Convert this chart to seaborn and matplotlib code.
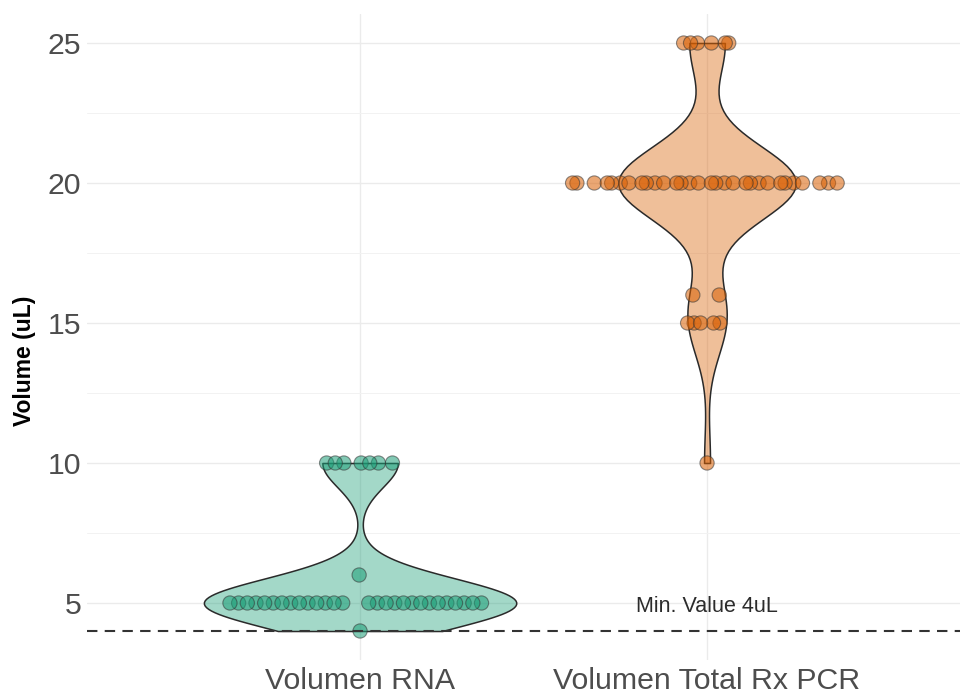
import numpy as np
import pandas as pd
import matplotlib
matplotlib.use("Agg")
import matplotlib.pyplot as plt
import seaborn as sns
from matplotlib.colors import to_rgba
from matplotlib.ticker import FixedLocator

# ---------------- data ----------------
groups = ["Volumen RNA", "Volumen Total Rx PCR"]
rna_values = [4, 5, 6, 10]
rna_counts = [1, 28, 1, 7]
pcr_values = [10, 15, 16, 20, 25]
pcr_counts = [1, 5, 2, 30, 6]
colors = ["#1B9E77", "#D95F02"]
y_ticks = [5, 10, 15, 20, 25]
min_value = 4
min_label = "Min. Value 4uL"
y_label = "Volume (uL)"

sns.set_theme(style="white")
plt.rcParams["font.family"] = ["Liberation Sans", "DejaVu Sans"]

rows = []
for gi, (vals, cnts) in enumerate([(rna_values, rna_counts), (pcr_values, pcr_counts)]):
    for v, c in zip(vals, cnts):
        rows += [(groups[gi], gi, float(v))] * c
df = pd.DataFrame(rows, columns=["group", "pos", "volume"])


def nrd0(x):
    x = np.asarray(x, float)
    sd = np.std(x, ddof=1)
    iqr = np.subtract(*np.percentile(x, [75, 25]))
    lo = min(sd, iqr / 1.34)
    if lo == 0:
        lo = sd if sd > 0 else 1.0
    return 0.9 * lo * len(x) ** -0.2


def van_der_corput(i, base=2):
    q, denom = 0.0, 1.0
    while i > 0:
        denom *= base
        i, r = divmod(i, base)
        q += r / denom
    return q


def quasirandom_offsets(y, width=0.4, adjust=0.5):
    y = np.asarray(y, float)
    n = len(y)
    bw = nrd0(y) * adjust
    dens = lambda t: np.exp(-0.5 * ((t[:, None] - y[None, :]) / bw) ** 2).sum(1)
    grid = np.linspace(y.min() - 3 * bw, y.max() + 3 * bw, 512)
    d = dens(y) / dens(grid).max()
    order = np.argsort(y, kind="stable")
    rank = np.empty(n, int)
    rank[order] = np.arange(n)
    vdc = np.array([van_der_corput(i + 1) for i in range(n)])
    return (vdc[rank] - 0.5) * 2 * width * d


df["xj"] = df["pos"].astype(float)
for g in groups:
    m = df["group"] == g
    df.loc[m, "xj"] = df.loc[m, "pos"] + quasirandom_offsets(df.loc[m, "volume"].values)

# R nrd0 bandwidth factor (IQR = 0 -> sd based): 0.9 * n^-1/5
bw_factor = 0.9 * (len(df) / len(groups)) ** -0.2

# ---------------- figure ----------------
W, H = 963, 694
fig = plt.figure(figsize=(W / 100, H / 100), dpi=100)
ax = fig.add_axes([87 / W, 33.6 / H, 873 / W, 646.8 / H])

sns.violinplot(data=df, x="pos", y="volume", hue="group", palette=colors,
               native_scale=True, dodge=False, cut=0, bw_method=bw_factor,
               density_norm="area", common_norm=True, width=0.9, inner=None,
               linecolor="#2a2a2a", linewidth=1.1, saturation=1, legend=False, ax=ax)
for coll in ax.collections:
    fc = coll.get_facecolor()
    if len(fc):
        coll.set_facecolor(to_rgba(fc[0][:3], 0.4))
        coll.set_edgecolor("#2a2a2a")

sns.scatterplot(data=df, x="xj", y="volume", hue="group", palette=colors,
                s=105, alpha=0.55, edgecolor="#333333", linewidth=0.8,
                legend=False, ax=ax, zorder=3)

ax.axhline(min_value, ls=(0, (5, 3.5)), color="#333333", lw=1.5, zorder=4)
ax.text(1, min_value + 0.86, min_label, ha="center", va="center",
        fontsize=15.5, color="#2b2b2b", zorder=5)

ax.set_xlim(-0.787, 1.729)
ax.set_ylim(2.95, 26.05)
ax.set_xticks([0, 1])
ax.set_xticklabels(groups)
ax.set_yticks(y_ticks)
ax.set_yticklabels([str(t) for t in y_ticks])
ax.yaxis.set_minor_locator(FixedLocator([(a + b) / 2 for a, b in zip(y_ticks[:-1], y_ticks[1:])]))

ax.set_axisbelow(True)
ax.grid(True, which="major", color="#EBEBEB", lw=1.0)
ax.grid(True, which="minor", axis="y", color="#F2F2F2", lw=0.7)
for s in ax.spines.values():
    s.set_visible(False)
ax.tick_params(axis="both", which="both", length=0, labelsize=21.8, labelcolor="#4D4D4D")
ax.tick_params(axis="y", pad=4)
ax.tick_params(axis="x", pad=5)
ax.set_xlabel("")
ax.set_ylabel(y_label, fontsize=16.5, fontweight="bold", color="black")
ax.yaxis.set_label_coords(-0.058, 0.463)

fig.savefig("out.png", dpi=100)
